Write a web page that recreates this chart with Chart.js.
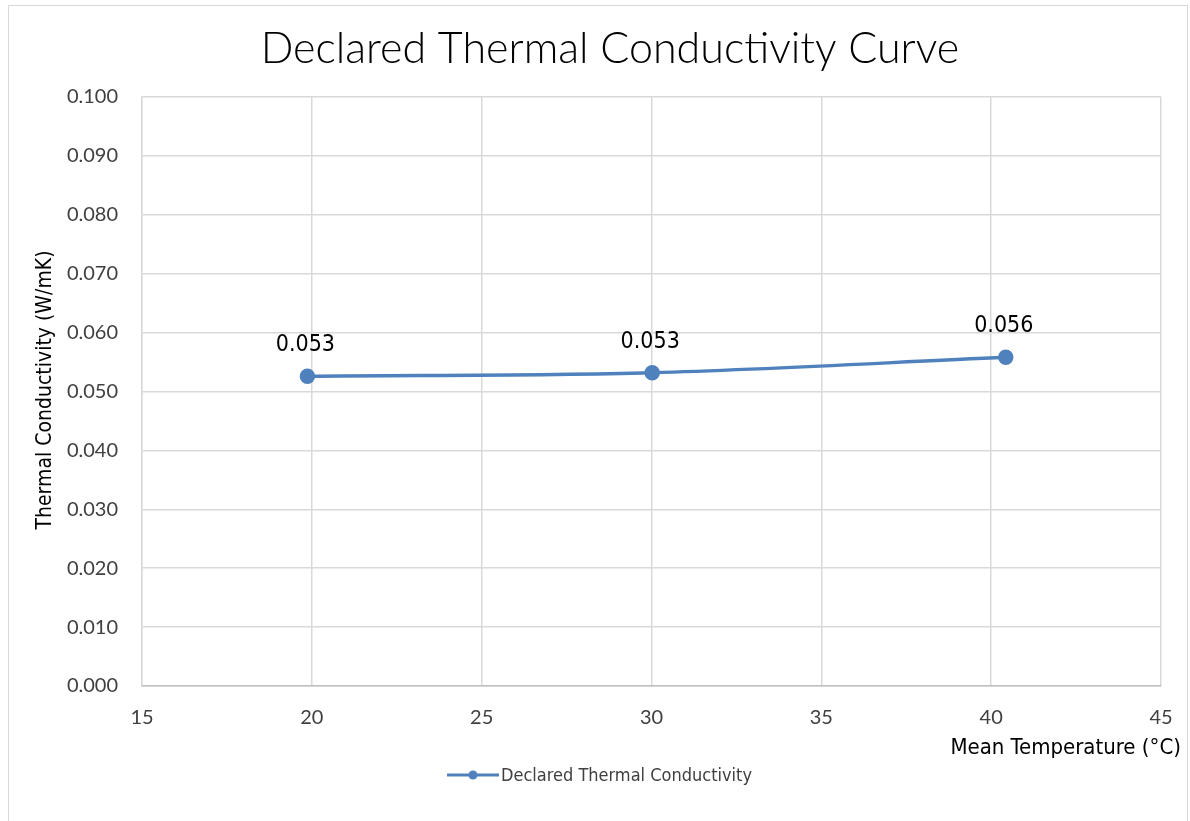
<!DOCTYPE html>
<html>
<head>
<meta charset="utf-8">
<script src="https://cdn.jsdelivr.net/npm/chart.js@4.4.1/dist/chart.umd.min.js"></script>
<style>
  html, body { margin: 0; padding: 0; background: #ffffff; }
  #wrap { width: 1190px; height: 821px; position: relative; }
</style>
</head>
<body>
<div id="wrap"><canvas id="c" width="1190" height="821"></canvas></div>
<script>
// ---- data ----
const chartTitle = "Declared Thermal Conductivity Curve";
const seriesName = "Declared Thermal Conductivity";
const temperatures = [19.87, 30.02, 40.43];
const conductivity = [0.0526, 0.0532, 0.0558];
const dataLabels = ["0.053", "0.053", "0.056"];
const xTicks = [15, 20, 25, 30, 35, 40, 45];
const yTicks = [0, 0.01, 0.02, 0.03, 0.04, 0.05, 0.06, 0.07, 0.08, 0.09, 0.1];
const xTitle = "Mean Temperature (°C)";
const yTitle = "Thermal Conductivity (W/mK)";

const lineColor = "#4f81bd";
const gridColor = "#d9d9d9";
const textColor = "#404040";
const tickFont = "Lato, 'Liberation Sans', sans-serif";
const narrowFont = "'Liberation Sans Narrow', 'DejaVu Sans Condensed', 'Liberation Sans', sans-serif";

const points = temperatures.map((t, i) => ({ x: t, y: conductivity[i] }));

const decorPlugin = {
  id: 'decor',
  beforeDraw(chart) {
    const ctx = chart.ctx;
    ctx.save();
    ctx.fillStyle = '#ffffff';
    ctx.fillRect(0, 0, chart.width, chart.height);
    ctx.strokeStyle = '#d9d9d9';
    ctx.lineWidth = 1;
    ctx.strokeRect(8.5, 5.5, 1179, 830);
    ctx.restore();
  },
  afterDraw(chart) {
    const ctx = chart.ctx;
    const area = chart.chartArea;
    ctx.save();
    // title
    ctx.fillStyle = '#000000';
    ctx.font = "300 43px Lato, 'Liberation Sans', sans-serif";
    ctx.textAlign = 'center';
    ctx.textBaseline = 'middle';
    ctx.fillText(chartTitle, 610, 49);
    // y title
    ctx.save();
    ctx.translate(46, 390);
    ctx.rotate(-Math.PI / 2);
    ctx.font = "21px " + narrowFont;
    ctx.fillStyle = '#000000';
    ctx.fillText(yTitle, 0, 0);
    ctx.restore();
    // x title
    ctx.font = "22px " + narrowFont;
    ctx.textAlign = 'right';
    ctx.fillStyle = '#000000';
    ctx.fillText(xTitle, area.right + 20, 748);
    // data labels
    const meta = chart.getDatasetMeta(0);
    ctx.font = "23px " + narrowFont;
    ctx.textAlign = 'center';
    ctx.fillStyle = '#000000';
    meta.data.forEach((el, i) => {
      ctx.fillText(dataLabels[i], el.x - 2, el.y - 31);
    });
    // legend
    const ds = chart.data.datasets[0];
    const lx = 447, ly = 775;
    ctx.strokeStyle = ds.borderColor;
    ctx.lineWidth = 3;
    ctx.beginPath();
    ctx.moveTo(lx, ly);
    ctx.lineTo(lx + 52, ly);
    ctx.stroke();
    ctx.fillStyle = ds.borderColor;
    ctx.beginPath();
    ctx.arc(lx + 26, ly, 4.5, 0, Math.PI * 2);
    ctx.fill();
    ctx.font = "18px " + narrowFont;
    ctx.fillStyle = textColor;
    ctx.textAlign = 'left';
    ctx.fillText(ds.label, lx + 54, ly + 1);
    ctx.restore();
  }
};

new Chart(document.getElementById('c'), {
  type: 'line',
  data: {
    datasets: [{
      label: seriesName,
      data: points,
      borderColor: lineColor,
      backgroundColor: lineColor,
      borderWidth: 3.5,
      pointRadius: 6,
      pointHoverRadius: 6,
      pointBackgroundColor: lineColor,
      pointBorderColor: lineColor,
      tension: 0.4,
      cubicInterpolationMode: 'monotone',
      fill: false
    }]
  },
  options: {
    responsive: false,
    animation: false,
    devicePixelRatio: 1,
    layout: { padding: { left: 0, right: 29, top: 97, bottom: 0 } },
    plugins: {
      legend: { display: false },
      tooltip: { enabled: false },
      title: { display: false }
    },
    scales: {
      x: {
        type: 'linear',
        min: 15, max: 45,
        afterBuildTicks(scale) { scale.ticks = xTicks.map(v => ({ value: v })); },
        afterFit(scale) { scale.height = 135; scale.paddingRight = 0; scale.paddingLeft = 0; },
        grid: { color: gridColor, lineWidth: 1.5, drawTicks: false },
        border: { display: true, color: '#bfbfbf', width: 1.5 },
        ticks: {
          padding: 20,
          color: textColor,
          font: { family: tickFont, size: 20 },
          callback: v => String(v)
        }
      },
      y: {
        type: 'linear',
        min: 0, max: 0.1,
        afterBuildTicks(scale) { scale.ticks = yTicks.map(v => ({ value: v })); },
        afterFit(scale) { scale.width = 142; scale.paddingTop = 0; scale.paddingBottom = 0; },
        grid: { color: gridColor, lineWidth: 1.5, drawTicks: false },
        border: { display: true, color: gridColor, width: 1.5 },
        ticks: {
          padding: 24,
          color: textColor,
          font: { family: tickFont, size: 20 },
          callback: v => v.toFixed(3)
        }
      }
    }
  },
  plugins: [decorPlugin]
});
</script>
</body>
</html>
